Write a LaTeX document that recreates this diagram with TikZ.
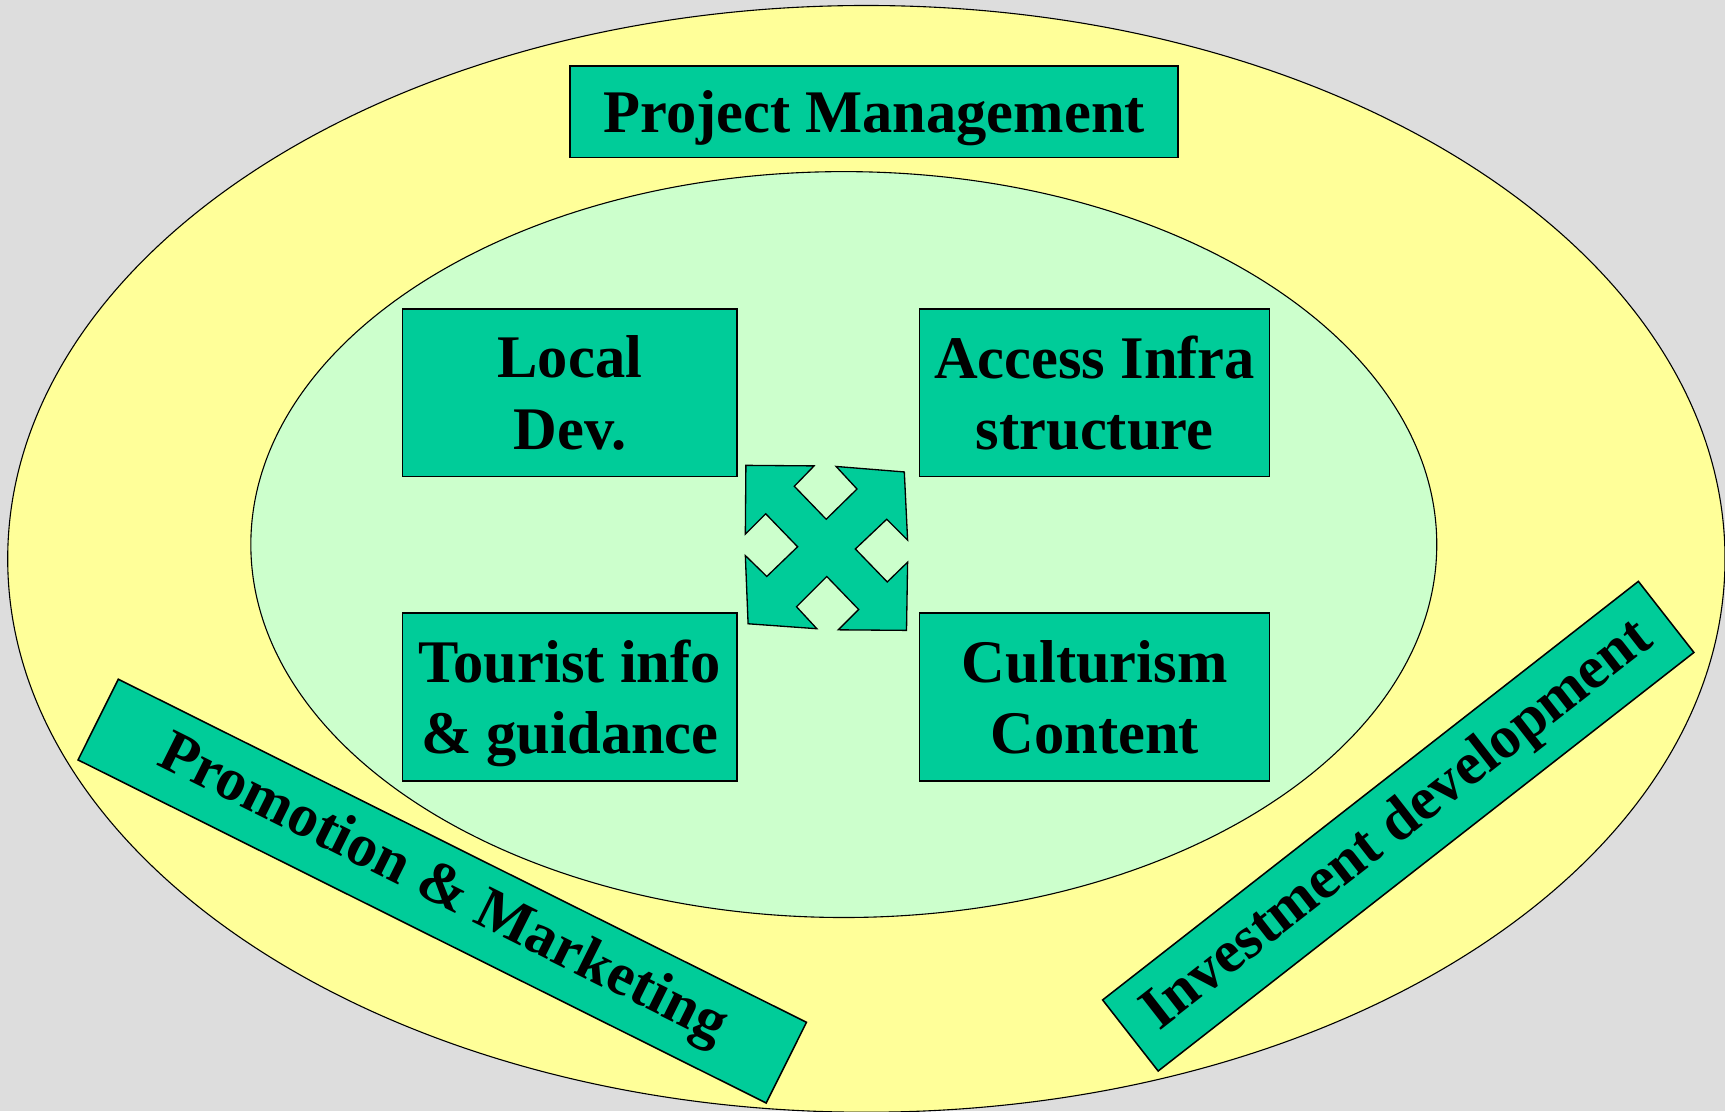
\documentclass[tikz,border=0pt]{standalone}
\usepackage{fontspec}
\setmainfont{Liberation Serif}
\definecolor{bggray}{HTML}{DDDDDD}
\definecolor{ringyellow}{HTML}{FFFF99}
\definecolor{coregreen}{HTML}{CCFFCC}
\definecolor{boxteal}{HTML}{00CC99}
\tikzset{
  block/.style={draw=black, fill=boxteal, line width=0.7pt, inner sep=0pt, align=center,
    text depth=0pt, font=\fontsize{27.5}{32.5}\selectfont\bfseries},
  band/.style={draw=black, fill=boxteal, line width=0.7pt, inner sep=0pt, align=center,
    minimum height=41pt, font=\fontsize{27.3}{32}\selectfont\bfseries},
}

\begin{document}
\begin{tikzpicture}[x=0.5pt,y=-0.5pt]
        \useasboundingbox (0,0) rectangle (1568,1010);
        \clip (0,0) rectangle (1568,1010);
        \fill[bggray] (0,0) rectangle (1568,1010);
        \draw[fill=ringyellow, line width=0.5pt] (787.5,508) ellipse [x radius=780.5, y radius=503];
        \draw[fill=coregreen, line width=0.5pt] (767,495) ellipse [x radius=539, y radius=339];
        \node[block, minimum width=276.5pt, minimum height=41.5pt] (projmgmt) at (794.5,101.5) {Project Management};
        \node[block, minimum width=152pt, minimum height=76pt] (localdev) at (518,357) {Local\\Dev.};
        \node[block, minimum width=159pt, minimum height=76pt] (access) at (995,357) {Access Infra\\structure};
        \node[block, minimum width=152pt, minimum height=76.5pt] (tourist) at (518,633.5) {Tourist info\\\& guidance};
        \node[block, minimum width=159pt, minimum height=76.5pt] (culturism) at (995,633.5) {Culturism\\Content};
        \node[band, minimum width=349.5pt, rotate=-26.5] (promo) at (402,810) {Promotion \& Marketing};
        \node[band, minimum width=309pt, rotate=38] (invest) at (1271,751) {Investment development};
        \draw[fill=boxteal, line width=0.6pt] (678,423) -- (740,423.5) -- (722,442) -- (751,472) -- (779,444.5) -- (760,424) -- (822,429) -- (825,491) -- (806,472) -- (777.5,499) -- (806.5,529) -- (825,511) -- (824,573) -- (762,572.5) -- (780.5,554) -- (751.5,524) -- (724,551.5) -- (742.5,571.5) -- (680,567) -- (677.5,505) -- (697,524) -- (725,497) -- (696,467) -- (677.5,485.5) -- cycle; %tl, tr, br, bl arrow heads
\end{tikzpicture}
\end{document}
